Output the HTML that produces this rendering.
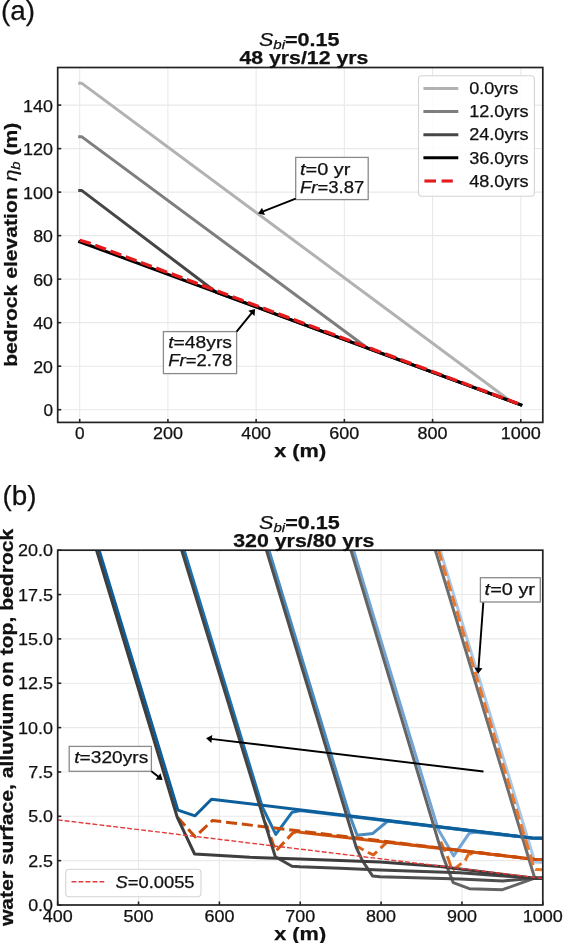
<!DOCTYPE html><html><head><meta charset="utf-8"><style>html,body{margin:0;padding:0;background:#fff;}svg{display:block;will-change:transform;}text{font-family:"Liberation Sans", sans-serif;fill:#111;stroke:#111;stroke-width:0.25px;}</style></head><body>
<svg width="563" height="943" viewBox="0 0 563 943">
<defs><clipPath id="clipA"><rect x="57.70" y="67.50" width="485.10" height="354.90"/></clipPath><clipPath id="clipB"><rect x="57.70" y="550.20" width="485.10" height="354.80"/></clipPath></defs>
<rect width="563" height="943" fill="#fff"/>
<line x1="79.70" y1="67.50" x2="79.70" y2="422.40" stroke="#e9e9e9" stroke-width="1.1"/>
<line x1="167.92" y1="67.50" x2="167.92" y2="422.40" stroke="#e9e9e9" stroke-width="1.1"/>
<line x1="256.14" y1="67.50" x2="256.14" y2="422.40" stroke="#e9e9e9" stroke-width="1.1"/>
<line x1="344.36" y1="67.50" x2="344.36" y2="422.40" stroke="#e9e9e9" stroke-width="1.1"/>
<line x1="432.58" y1="67.50" x2="432.58" y2="422.40" stroke="#e9e9e9" stroke-width="1.1"/>
<line x1="520.80" y1="67.50" x2="520.80" y2="422.40" stroke="#e9e9e9" stroke-width="1.1"/>
<line x1="57.70" y1="409.70" x2="542.80" y2="409.70" stroke="#e9e9e9" stroke-width="1.1"/>
<line x1="57.70" y1="366.19" x2="542.80" y2="366.19" stroke="#e9e9e9" stroke-width="1.1"/>
<line x1="57.70" y1="322.67" x2="542.80" y2="322.67" stroke="#e9e9e9" stroke-width="1.1"/>
<line x1="57.70" y1="279.16" x2="542.80" y2="279.16" stroke="#e9e9e9" stroke-width="1.1"/>
<line x1="57.70" y1="235.64" x2="542.80" y2="235.64" stroke="#e9e9e9" stroke-width="1.1"/>
<line x1="57.70" y1="192.13" x2="542.80" y2="192.13" stroke="#e9e9e9" stroke-width="1.1"/>
<line x1="57.70" y1="148.62" x2="542.80" y2="148.62" stroke="#e9e9e9" stroke-width="1.1"/>
<line x1="57.70" y1="105.10" x2="542.80" y2="105.10" stroke="#e9e9e9" stroke-width="1.1"/>
<g clip-path="url(#clipA)">
<polyline points="79.70,83.34 81.91,83.34 511.01,401.29 520.80,404.91" fill="none" stroke="#b2b2b2" stroke-width="3" stroke-linejoin="round" stroke-linecap="square"/>
<polyline points="79.70,136.87 81.91,136.87 367.74,348.29 520.80,404.91" fill="none" stroke="#7e7e7e" stroke-width="3" stroke-linejoin="round" stroke-linecap="square"/>
<polyline points="79.70,190.61 81.91,190.61 216.22,292.24 520.80,404.91" fill="none" stroke="#464646" stroke-width="3" stroke-linejoin="round" stroke-linecap="square"/>
<polyline points="79.70,241.74 520.80,404.91" fill="none" stroke="#000" stroke-width="3" stroke-linejoin="round" stroke-linecap="square"/>
<polyline points="79.70,240.21 88.52,242.82 520.80,404.59" fill="none" stroke="#e41a1c" stroke-width="3.3" stroke-linejoin="round" stroke-linecap="butt" stroke-dasharray="11.5,4.8"/>
</g>
<rect x="57.70" y="67.50" width="485.10" height="354.90" fill="none" stroke="#222222" stroke-width="1.7"/>
<line x1="79.70" y1="422.40" x2="79.70" y2="418.90" stroke="#222222" stroke-width="1.6"/>
<line x1="167.92" y1="422.40" x2="167.92" y2="418.90" stroke="#222222" stroke-width="1.6"/>
<line x1="256.14" y1="422.40" x2="256.14" y2="418.90" stroke="#222222" stroke-width="1.6"/>
<line x1="344.36" y1="422.40" x2="344.36" y2="418.90" stroke="#222222" stroke-width="1.6"/>
<line x1="432.58" y1="422.40" x2="432.58" y2="418.90" stroke="#222222" stroke-width="1.6"/>
<line x1="520.80" y1="422.40" x2="520.80" y2="418.90" stroke="#222222" stroke-width="1.6"/>
<line x1="57.70" y1="409.70" x2="61.20" y2="409.70" stroke="#222222" stroke-width="1.6"/>
<line x1="57.70" y1="366.19" x2="61.20" y2="366.19" stroke="#222222" stroke-width="1.6"/>
<line x1="57.70" y1="322.67" x2="61.20" y2="322.67" stroke="#222222" stroke-width="1.6"/>
<line x1="57.70" y1="279.16" x2="61.20" y2="279.16" stroke="#222222" stroke-width="1.6"/>
<line x1="57.70" y1="235.64" x2="61.20" y2="235.64" stroke="#222222" stroke-width="1.6"/>
<line x1="57.70" y1="192.13" x2="61.20" y2="192.13" stroke="#222222" stroke-width="1.6"/>
<line x1="57.70" y1="148.62" x2="61.20" y2="148.62" stroke="#222222" stroke-width="1.6"/>
<line x1="57.70" y1="105.10" x2="61.20" y2="105.10" stroke="#222222" stroke-width="1.6"/>
<text x="79.70" y="438.90" text-anchor="middle" textLength="9.58" lengthAdjust="spacingAndGlyphs"><tspan font-size="16.30">0</tspan></text>
<text x="167.92" y="438.90" text-anchor="middle" textLength="29.94" lengthAdjust="spacingAndGlyphs"><tspan font-size="16.30">200</tspan></text>
<text x="256.14" y="438.90" text-anchor="middle" textLength="29.94" lengthAdjust="spacingAndGlyphs"><tspan font-size="16.30">400</tspan></text>
<text x="344.36" y="438.90" text-anchor="middle" textLength="29.94" lengthAdjust="spacingAndGlyphs"><tspan font-size="16.30">600</tspan></text>
<text x="432.58" y="438.90" text-anchor="middle" textLength="29.94" lengthAdjust="spacingAndGlyphs"><tspan font-size="16.30">800</tspan></text>
<text x="520.80" y="438.90" text-anchor="middle" textLength="40.12" lengthAdjust="spacingAndGlyphs"><tspan font-size="16.30">1000</tspan></text>
<text x="53.00" y="416.10" text-anchor="end" textLength="9.58" lengthAdjust="spacingAndGlyphs"><tspan font-size="16.30">0</tspan></text>
<text x="53.00" y="372.59" text-anchor="end" textLength="19.76" lengthAdjust="spacingAndGlyphs"><tspan font-size="16.30">20</tspan></text>
<text x="53.00" y="329.07" text-anchor="end" textLength="19.76" lengthAdjust="spacingAndGlyphs"><tspan font-size="16.30">40</tspan></text>
<text x="53.00" y="285.56" text-anchor="end" textLength="19.76" lengthAdjust="spacingAndGlyphs"><tspan font-size="16.30">60</tspan></text>
<text x="53.00" y="242.04" text-anchor="end" textLength="19.76" lengthAdjust="spacingAndGlyphs"><tspan font-size="16.30">80</tspan></text>
<text x="53.00" y="198.53" text-anchor="end" textLength="29.94" lengthAdjust="spacingAndGlyphs"><tspan font-size="16.30">100</tspan></text>
<text x="53.00" y="155.02" text-anchor="end" textLength="29.94" lengthAdjust="spacingAndGlyphs"><tspan font-size="16.30">120</tspan></text>
<text x="53.00" y="111.50" text-anchor="end" textLength="29.94" lengthAdjust="spacingAndGlyphs"><tspan font-size="16.30">140</tspan></text>
<rect x="418.5" y="75.8" width="115.9" height="120.5" rx="3.5" ry="3.5" fill="#fff" fill-opacity="0.85" stroke="#d4d4d4" stroke-width="1.1"/>
<polyline points="424.90,88.40 456.80,88.40" fill="none" stroke="#b2b2b2" stroke-width="3" stroke-linejoin="round" stroke-linecap="square"/>
<text x="469.20" y="94.20" text-anchor="start" textLength="49.23" lengthAdjust="spacingAndGlyphs"><tspan font-size="16.30">0.0yrs</tspan></text>
<polyline points="424.90,111.55 456.80,111.55" fill="none" stroke="#7e7e7e" stroke-width="3" stroke-linejoin="round" stroke-linecap="square"/>
<text x="469.20" y="117.30" text-anchor="start" textLength="59.41" lengthAdjust="spacingAndGlyphs"><tspan font-size="16.30">12.0yrs</tspan></text>
<polyline points="424.90,134.70 456.80,134.70" fill="none" stroke="#464646" stroke-width="3" stroke-linejoin="round" stroke-linecap="square"/>
<text x="469.20" y="140.40" text-anchor="start" textLength="59.41" lengthAdjust="spacingAndGlyphs"><tspan font-size="16.30">24.0yrs</tspan></text>
<polyline points="424.90,157.85 456.80,157.85" fill="none" stroke="#000" stroke-width="3" stroke-linejoin="round" stroke-linecap="square"/>
<text x="469.20" y="163.50" text-anchor="start" textLength="59.41" lengthAdjust="spacingAndGlyphs"><tspan font-size="16.30">36.0yrs</tspan></text>
<polyline points="424.40,181.00 436.00,181.00" fill="none" stroke="#e41a1c" stroke-width="3.1" stroke-linejoin="round" stroke-linecap="butt"/>
<polyline points="441.60,181.00 452.80,181.00" fill="none" stroke="#e41a1c" stroke-width="3.1" stroke-linejoin="round" stroke-linecap="butt"/>
<text x="469.20" y="186.60" text-anchor="start" textLength="59.41" lengthAdjust="spacingAndGlyphs"><tspan font-size="16.30">48.0yrs</tspan></text>
<rect x="295.70" y="157.40" width="72.50" height="42.20" fill="#fff" stroke="#8a8a8a" stroke-width="1.3"/>
<text x="300.00" y="174.90" text-anchor="start" textLength="50.39" lengthAdjust="spacingAndGlyphs"><tspan font-size="16.30" font-style="italic">t</tspan><tspan font-size="16.30">=0 yr</tspan></text>
<text x="300.00" y="192.70" text-anchor="start" textLength="64.21" lengthAdjust="spacingAndGlyphs"><tspan font-size="16.30" font-style="italic">Fr</tspan><tspan font-size="16.30">=3.87</tspan></text>
<line x1="295.70" y1="198.60" x2="262.56" y2="211.73" stroke="#000" stroke-width="1.9"/>
<polygon points="258.10,213.50 262.02,207.64 264.97,215.08" fill="#000"/>
<rect x="163.40" y="331.60" width="73.20" height="42.00" fill="#fff" stroke="#8a8a8a" stroke-width="1.3"/>
<text x="168.20" y="347.70" text-anchor="start" textLength="63.82" lengthAdjust="spacingAndGlyphs"><tspan font-size="16.30" font-style="italic">t</tspan><tspan font-size="16.30">=48yrs</tspan></text>
<text x="168.20" y="366.20" text-anchor="start" textLength="64.21" lengthAdjust="spacingAndGlyphs"><tspan font-size="16.30" font-style="italic">Fr</tspan><tspan font-size="16.30">=2.78</tspan></text>
<line x1="236.60" y1="331.60" x2="252.07" y2="312.62" stroke="#000" stroke-width="1.9"/>
<polygon points="255.10,308.90 254.54,315.92 248.34,310.87" fill="#000"/>
<text x="299.20" y="45.80" text-anchor="middle" textLength="80.59" lengthAdjust="spacingAndGlyphs"><tspan font-size="17.90" font-style="italic" font-weight="normal">S</tspan><tspan font-style="italic" font-weight="normal" font-size="12.53" dy="3.20">bi</tspan><tspan font-size="17.90" font-weight="bold" dy="-3.20">=0.15</tspan></text>
<text x="303.90" y="63.60" text-anchor="middle" textLength="128.93" lengthAdjust="spacingAndGlyphs"><tspan font-size="17.90" font-weight="bold">48 yrs/12 yrs</tspan></text>
<text x="300.20" y="456.80" text-anchor="middle" textLength="51.91" lengthAdjust="spacingAndGlyphs"><tspan font-size="17.90" font-weight="bold">x (m)</tspan></text>
<text x="0.00" y="0.00" text-anchor="middle" textLength="244.15" lengthAdjust="spacingAndGlyphs" transform="translate(17.0,244.75) rotate(-90)"><tspan font-size="17.90" font-weight="bold">bedrock elevation </tspan><tspan font-size="17.90" font-style="italic" font-weight="normal">η</tspan><tspan font-style="italic" font-weight="normal" font-size="12.53" dy="3.20">b</tspan><tspan font-size="17.90" font-weight="bold" dy="-3.20"> (m)</tspan></text>
<text x="1.0" y="19.8" font-size="27.8">(a)</text>
<line x1="57.70" y1="550.20" x2="57.70" y2="905.00" stroke="#e9e9e9" stroke-width="1.1"/>
<line x1="138.55" y1="550.20" x2="138.55" y2="905.00" stroke="#e9e9e9" stroke-width="1.1"/>
<line x1="219.40" y1="550.20" x2="219.40" y2="905.00" stroke="#e9e9e9" stroke-width="1.1"/>
<line x1="300.25" y1="550.20" x2="300.25" y2="905.00" stroke="#e9e9e9" stroke-width="1.1"/>
<line x1="381.10" y1="550.20" x2="381.10" y2="905.00" stroke="#e9e9e9" stroke-width="1.1"/>
<line x1="461.95" y1="550.20" x2="461.95" y2="905.00" stroke="#e9e9e9" stroke-width="1.1"/>
<line x1="542.80" y1="550.20" x2="542.80" y2="905.00" stroke="#e9e9e9" stroke-width="1.1"/>
<line x1="57.70" y1="905.00" x2="542.80" y2="905.00" stroke="#e9e9e9" stroke-width="1.1"/>
<line x1="57.70" y1="860.65" x2="542.80" y2="860.65" stroke="#e9e9e9" stroke-width="1.1"/>
<line x1="57.70" y1="816.30" x2="542.80" y2="816.30" stroke="#e9e9e9" stroke-width="1.1"/>
<line x1="57.70" y1="771.95" x2="542.80" y2="771.95" stroke="#e9e9e9" stroke-width="1.1"/>
<line x1="57.70" y1="727.60" x2="542.80" y2="727.60" stroke="#e9e9e9" stroke-width="1.1"/>
<line x1="57.70" y1="683.25" x2="542.80" y2="683.25" stroke="#e9e9e9" stroke-width="1.1"/>
<line x1="57.70" y1="638.90" x2="542.80" y2="638.90" stroke="#e9e9e9" stroke-width="1.1"/>
<line x1="57.70" y1="594.55" x2="542.80" y2="594.55" stroke="#e9e9e9" stroke-width="1.1"/>
<line x1="57.70" y1="550.20" x2="542.80" y2="550.20" stroke="#e9e9e9" stroke-width="1.1"/>
<g clip-path="url(#clipB)">
<polyline points="440.10,550.00 534.90,862.00 545.00,862.50" fill="none" stroke="#a9c8e6" stroke-width="3.0" stroke-linejoin="round" stroke-linecap="butt"/>
<polyline points="353.50,550.00 438.10,829.20 453.70,855.90 469.30,833.20 475.00,832.20 532.10,838.00 545.00,838.40" fill="none" stroke="#72a5d3" stroke-width="3.0" stroke-linejoin="round" stroke-linecap="butt"/>
<polyline points="268.90,550.00 349.10,813.90 357.20,835.30 372.90,833.40 387.80,821.00 532.10,838.00 545.00,838.40" fill="none" stroke="#4a8bbf" stroke-width="3.0" stroke-linejoin="round" stroke-linecap="butt"/>
<polyline points="184.10,550.00 262.40,807.20 275.80,834.40 292.00,812.40 295.80,811.50 300.00,810.50 532.10,838.00 545.00,838.40" fill="none" stroke="#1c72af" stroke-width="3.0" stroke-linejoin="round" stroke-linecap="butt"/>
<polyline points="99.10,550.00 177.90,810.10 195.10,815.80 211.50,799.20 532.10,838.00 545.00,838.40" fill="none" stroke="#0d5f9c" stroke-width="3.0" stroke-linejoin="round" stroke-linecap="butt"/>
<polyline points="439.00,838.00 448.20,858.40 452.20,870.50 465.30,860.40 468.30,854.40 478.00,852.50 535.20,859.40 545.00,859.40" fill="none" stroke="#e06a20" stroke-width="3.0" stroke-linejoin="round" stroke-linecap="butt" stroke-dasharray="11.1,4.8" stroke-dashoffset="12"/>
<polyline points="356.20,847.30 358.60,847.30 368.20,852.50 373.40,854.90 382.20,846.60 387.20,842.00 535.20,859.40 545.00,859.40" fill="none" stroke="#d86018" stroke-width="3.0" stroke-linejoin="round" stroke-linecap="butt" stroke-dasharray="11.1,4.8" stroke-dashoffset="3"/>
<polyline points="262.50,815.00 275.80,851.10 292.90,832.90 300.00,831.20" fill="none" stroke="#d0540e" stroke-width="3.0" stroke-linejoin="round" stroke-linecap="butt" stroke-dasharray="11.1,4.8" stroke-dashoffset="8"/>
<polyline points="296.00,831.60 302.00,832.40 535.20,859.40 545.00,859.40" fill="none" stroke="#d0540e" stroke-width="3.0" stroke-linejoin="round" stroke-linecap="butt"/>
<polyline points="177.40,817.70 178.90,818.70 195.10,836.80 212.40,820.50 535.20,859.40 545.00,859.40" fill="none" stroke="#c84b0a" stroke-width="3.0" stroke-linejoin="round" stroke-linecap="butt" stroke-dasharray="11.1,4.8" stroke-dashoffset="0"/>
<polyline points="435.30,550.00 534.60,877.80 545.00,878.20" fill="none" stroke="#6e6e6e" stroke-width="3.0" stroke-linejoin="round" stroke-linecap="butt"/>
<polyline points="350.90,550.00 442.60,855.40 453.20,882.60 469.30,888.70 502.50,889.70 534.80,878.20 545.00,878.20" fill="none" stroke="#646464" stroke-width="3.0" stroke-linejoin="round" stroke-linecap="butt"/>
<polyline points="266.40,550.00 356.20,847.30 362.40,860.60 372.50,875.90 380.00,876.80 460.00,879.10 503.00,880.90 534.80,878.20 545.00,878.20" fill="none" stroke="#4f4f4f" stroke-width="3.0" stroke-linejoin="round" stroke-linecap="butt"/>
<polyline points="181.60,550.00 275.30,856.80 292.00,866.30 300.00,866.80 340.00,868.20 380.00,869.90 460.00,872.70 534.80,878.20 545.00,878.20" fill="none" stroke="#454545" stroke-width="3.0" stroke-linejoin="round" stroke-linecap="butt"/>
<polyline points="96.50,550.00 177.40,817.70 194.60,854.00 250.00,857.30 300.00,859.00 380.00,862.00 440.00,866.50 534.80,878.20 545.00,878.20" fill="none" stroke="#3d3d3d" stroke-width="3.0" stroke-linejoin="round" stroke-linecap="butt"/>
<polyline points="438.40,550.00 533.60,866.50 535.50,869.50 545.00,869.70" fill="none" stroke="#e87830" stroke-width="3.0" stroke-linejoin="round" stroke-linecap="butt" stroke-dasharray="11.1,4.8"/>
<polyline points="57.70,819.85 542.80,878.39" fill="none" stroke="#e03a3a" stroke-width="1.4" stroke-linejoin="round" stroke-linecap="butt" stroke-dasharray="4.9,2.1"/>
</g>
<rect x="57.70" y="550.20" width="485.10" height="354.80" fill="none" stroke="#222222" stroke-width="1.7"/>
<line x1="57.70" y1="905.00" x2="57.70" y2="901.50" stroke="#222222" stroke-width="1.6"/>
<line x1="138.55" y1="905.00" x2="138.55" y2="901.50" stroke="#222222" stroke-width="1.6"/>
<line x1="219.40" y1="905.00" x2="219.40" y2="901.50" stroke="#222222" stroke-width="1.6"/>
<line x1="300.25" y1="905.00" x2="300.25" y2="901.50" stroke="#222222" stroke-width="1.6"/>
<line x1="381.10" y1="905.00" x2="381.10" y2="901.50" stroke="#222222" stroke-width="1.6"/>
<line x1="461.95" y1="905.00" x2="461.95" y2="901.50" stroke="#222222" stroke-width="1.6"/>
<line x1="542.80" y1="905.00" x2="542.80" y2="901.50" stroke="#222222" stroke-width="1.6"/>
<line x1="57.70" y1="905.00" x2="61.20" y2="905.00" stroke="#222222" stroke-width="1.6"/>
<line x1="57.70" y1="860.65" x2="61.20" y2="860.65" stroke="#222222" stroke-width="1.6"/>
<line x1="57.70" y1="816.30" x2="61.20" y2="816.30" stroke="#222222" stroke-width="1.6"/>
<line x1="57.70" y1="771.95" x2="61.20" y2="771.95" stroke="#222222" stroke-width="1.6"/>
<line x1="57.70" y1="727.60" x2="61.20" y2="727.60" stroke="#222222" stroke-width="1.6"/>
<line x1="57.70" y1="683.25" x2="61.20" y2="683.25" stroke="#222222" stroke-width="1.6"/>
<line x1="57.70" y1="638.90" x2="61.20" y2="638.90" stroke="#222222" stroke-width="1.6"/>
<line x1="57.70" y1="594.55" x2="61.20" y2="594.55" stroke="#222222" stroke-width="1.6"/>
<line x1="57.70" y1="550.20" x2="61.20" y2="550.20" stroke="#222222" stroke-width="1.6"/>
<text x="57.70" y="921.50" text-anchor="middle" textLength="29.94" lengthAdjust="spacingAndGlyphs"><tspan font-size="16.30">400</tspan></text>
<text x="138.55" y="921.50" text-anchor="middle" textLength="29.94" lengthAdjust="spacingAndGlyphs"><tspan font-size="16.30">500</tspan></text>
<text x="219.40" y="921.50" text-anchor="middle" textLength="29.94" lengthAdjust="spacingAndGlyphs"><tspan font-size="16.30">600</tspan></text>
<text x="300.25" y="921.50" text-anchor="middle" textLength="29.94" lengthAdjust="spacingAndGlyphs"><tspan font-size="16.30">700</tspan></text>
<text x="381.10" y="921.50" text-anchor="middle" textLength="29.94" lengthAdjust="spacingAndGlyphs"><tspan font-size="16.30">800</tspan></text>
<text x="461.95" y="921.50" text-anchor="middle" textLength="29.94" lengthAdjust="spacingAndGlyphs"><tspan font-size="16.30">900</tspan></text>
<text x="542.80" y="921.50" text-anchor="middle" textLength="40.12" lengthAdjust="spacingAndGlyphs"><tspan font-size="16.30">1000</tspan></text>
<text x="53.00" y="911.10" text-anchor="end" textLength="24.85" lengthAdjust="spacingAndGlyphs"><tspan font-size="16.30">0.0</tspan></text>
<text x="53.00" y="866.75" text-anchor="end" textLength="24.85" lengthAdjust="spacingAndGlyphs"><tspan font-size="16.30">2.5</tspan></text>
<text x="53.00" y="822.40" text-anchor="end" textLength="24.85" lengthAdjust="spacingAndGlyphs"><tspan font-size="16.30">5.0</tspan></text>
<text x="53.00" y="778.05" text-anchor="end" textLength="24.85" lengthAdjust="spacingAndGlyphs"><tspan font-size="16.30">7.5</tspan></text>
<text x="53.00" y="733.70" text-anchor="end" textLength="35.03" lengthAdjust="spacingAndGlyphs"><tspan font-size="16.30">10.0</tspan></text>
<text x="53.00" y="689.35" text-anchor="end" textLength="35.03" lengthAdjust="spacingAndGlyphs"><tspan font-size="16.30">12.5</tspan></text>
<text x="53.00" y="645.00" text-anchor="end" textLength="35.03" lengthAdjust="spacingAndGlyphs"><tspan font-size="16.30">15.0</tspan></text>
<text x="53.00" y="600.65" text-anchor="end" textLength="35.03" lengthAdjust="spacingAndGlyphs"><tspan font-size="16.30">17.5</tspan></text>
<text x="53.00" y="556.30" text-anchor="end" textLength="35.03" lengthAdjust="spacingAndGlyphs"><tspan font-size="16.30">20.0</tspan></text>
<rect x="65.7" y="869.3" width="135.3" height="27.5" rx="3.5" ry="3.5" fill="#fff" fill-opacity="0.85" stroke="#d4d4d4" stroke-width="1.1"/>
<polyline points="71.50,881.80 104.30,881.80" fill="none" stroke="#e03a3a" stroke-width="1.4" stroke-linejoin="round" stroke-linecap="butt" stroke-dasharray="4.9,2.1"/>
<text x="115.60" y="888.00" text-anchor="start" textLength="78.95" lengthAdjust="spacingAndGlyphs"><tspan font-size="16.30" font-style="italic">S</tspan><tspan font-size="16.30">=0.0055</tspan></text>
<line x1="483.50" y1="771.50" x2="210.87" y2="738.87" stroke="#000" stroke-width="1.9"/>
<polygon points="206.10,738.30 212.33,735.02 211.38,742.96" fill="#000"/>
<rect x="480.40" y="577.70" width="59.90" height="24.30" fill="#fff" stroke="#8a8a8a" stroke-width="1.3"/>
<text x="484.60" y="594.60" text-anchor="start" textLength="50.39" lengthAdjust="spacingAndGlyphs"><tspan font-size="16.30" font-style="italic">t</tspan><tspan font-size="16.30">=0 yr</tspan></text>
<line x1="483.30" y1="602.60" x2="478.45" y2="668.91" stroke="#000" stroke-width="1.9"/>
<polygon points="478.10,673.70 474.53,667.62 482.51,668.21" fill="#000"/>
<rect x="69.20" y="746.40" width="82.20" height="24.90" fill="#fff" stroke="#8a8a8a" stroke-width="1.3"/>
<text x="74.30" y="763.40" text-anchor="start" textLength="74.00" lengthAdjust="spacingAndGlyphs"><tspan font-size="16.30" font-style="italic">t</tspan><tspan font-size="16.30">=320yrs</tspan></text>
<line x1="151.40" y1="771.30" x2="158.81" y2="777.06" stroke="#000" stroke-width="1.9"/>
<polygon points="162.60,780.00 155.57,779.60 160.47,773.28" fill="#000"/>
<text x="299.40" y="528.60" text-anchor="middle" textLength="80.59" lengthAdjust="spacingAndGlyphs"><tspan font-size="17.90" font-style="italic" font-weight="normal">S</tspan><tspan font-style="italic" font-weight="normal" font-size="12.53" dy="3.20">bi</tspan><tspan font-size="17.90" font-weight="bold" dy="-3.20">=0.15</tspan></text>
<text x="303.80" y="546.70" text-anchor="middle" textLength="141.17" lengthAdjust="spacingAndGlyphs"><tspan font-size="17.90" font-weight="bold">320 yrs/80 yrs</tspan></text>
<text x="300.20" y="940.00" text-anchor="middle" textLength="51.91" lengthAdjust="spacingAndGlyphs"><tspan font-size="17.90" font-weight="bold">x (m)</tspan></text>
<text x="0.00" y="0.00" text-anchor="middle" textLength="397.38" lengthAdjust="spacingAndGlyphs" transform="translate(12.8,727.4) rotate(-90)"><tspan font-size="17.90" font-weight="bold">water surface, alluvium on top, bedrock</tspan></text>
<text x="2.6" y="504.5" font-size="27.8">(b)</text>
</svg></body></html>
